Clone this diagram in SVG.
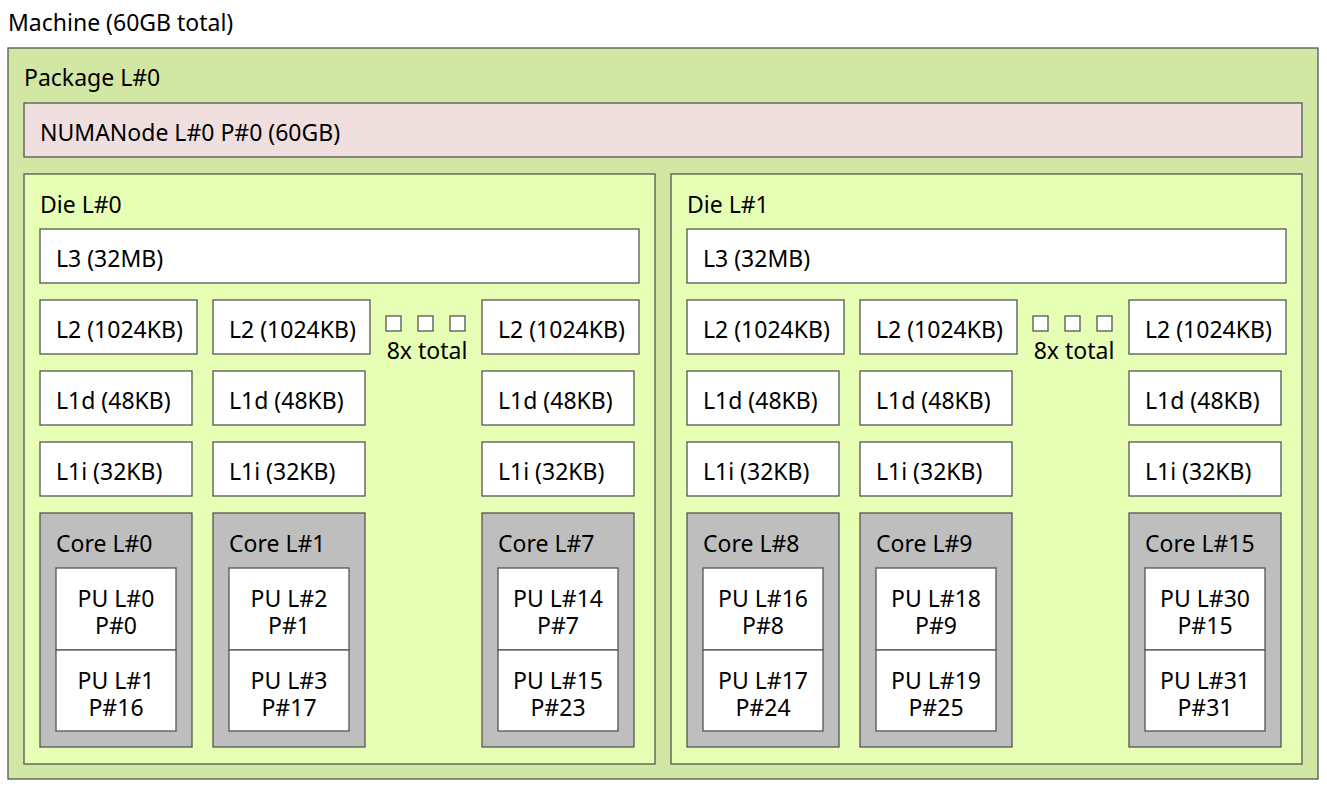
<svg xmlns="http://www.w3.org/2000/svg" width="1327" height="790" viewBox="0 0 1327 790">
<style>
text{font-family:"Noto Sans","Open Sans","DejaVu Sans",sans-serif;font-size:23px;fill:#000}
.c{text-anchor:middle}
rect{stroke:#555;stroke-width:1.3}
.pkg{fill:#d2e7a4}.numa{fill:#efdfde}.die{fill:#e7ffb5}.w{fill:#fff}.core{fill:#bebebe}
</style>
<rect width="1327" height="790" style="fill:#fff;stroke:none"/>
<text x="8" y="31">Machine (60GB total)</text>
<g id="package"><rect class="pkg" x="8" y="48" width="1310" height="731"/><text x="24" y="86">Package L#0</text></g>
<g id="numa"><rect class="numa" x="24" y="103" width="1278" height="54"/><text x="40" y="141">NUMANode L#0 P#0 (60GB)</text></g>
<defs>
<g id="dieT">
<rect class="die" x="24" y="174" width="631" height="590"/>
<rect class="w" x="40" y="229" width="599" height="54"/><text x="56" y="267">L3 (32MB)</text>
<rect class="w" x="40" y="300" width="157" height="54"/><text x="56" y="338">L2 (1024KB)</text>
<rect class="w" x="213" y="300" width="157" height="54"/><text x="229" y="338">L2 (1024KB)</text>
<rect class="w" x="482" y="300" width="157" height="54"/><text x="498" y="338">L2 (1024KB)</text>
<rect class="w" x="386" y="316" width="15" height="15"/><rect class="w" x="418" y="316" width="15" height="15"/><rect class="w" x="450" y="316" width="15" height="15"/>
<text class="c" x="427" y="359">8x total</text>
<rect class="w" x="40" y="371" width="152" height="54"/><text x="56" y="409">L1d (48KB)</text>
<rect class="w" x="213" y="371" width="152" height="54"/><text x="229" y="409">L1d (48KB)</text>
<rect class="w" x="482" y="371" width="152" height="54"/><text x="498" y="409">L1d (48KB)</text>
<rect class="w" x="40" y="442" width="152" height="54"/><text x="56" y="480">L1i (32KB)</text>
<rect class="w" x="213" y="442" width="152" height="54"/><text x="229" y="480">L1i (32KB)</text>
<rect class="w" x="482" y="442" width="152" height="54"/><text x="498" y="480">L1i (32KB)</text>
<rect class="core" x="40" y="513" width="152" height="234"/>
<rect class="core" x="213" y="513" width="152" height="234"/>
<rect class="core" x="482" y="513" width="152" height="234"/>
<rect class="w" x="56" y="568" width="120" height="82"/><rect class="w" x="56" y="650" width="120" height="81"/>
<rect class="w" x="229" y="568" width="120" height="82"/><rect class="w" x="229" y="650" width="120" height="81"/>
<rect class="w" x="498" y="568" width="120" height="82"/><rect class="w" x="498" y="650" width="120" height="81"/>
</g>
</defs>
<g id="die0"><use href="#dieT"/><text x="40" y="213">Die L#0</text>
<text x="56" y="552">Core L#0</text><text x="229" y="552">Core L#1</text><text x="498" y="552">Core L#7</text>
<text class="c" x="116" y="607">PU L#0</text><text class="c" x="116" y="634">P#0</text>
<text class="c" x="116" y="689">PU L#1</text><text class="c" x="116" y="716">P#16</text>
<text class="c" x="289" y="607">PU L#2</text><text class="c" x="289" y="634">P#1</text>
<text class="c" x="289" y="689">PU L#3</text><text class="c" x="289" y="716">P#17</text>
<text class="c" x="558" y="607">PU L#14</text><text class="c" x="558" y="634">P#7</text>
<text class="c" x="558" y="689">PU L#15</text><text class="c" x="558" y="716">P#23</text>
</g>
<g id="die1"><use href="#dieT" x="647"/><text x="687" y="213">Die L#1</text>
<text x="703" y="552">Core L#8</text><text x="876" y="552">Core L#9</text><text x="1145" y="552">Core L#15</text>
<text class="c" x="763" y="607">PU L#16</text><text class="c" x="763" y="634">P#8</text>
<text class="c" x="763" y="689">PU L#17</text><text class="c" x="763" y="716">P#24</text>
<text class="c" x="936" y="607">PU L#18</text><text class="c" x="936" y="634">P#9</text>
<text class="c" x="936" y="689">PU L#19</text><text class="c" x="936" y="716">P#25</text>
<text class="c" x="1205" y="607">PU L#30</text><text class="c" x="1205" y="634">P#15</text>
<text class="c" x="1205" y="689">PU L#31</text><text class="c" x="1205" y="716">P#31</text>
</g>
<g id="connectors"/>
</svg>
